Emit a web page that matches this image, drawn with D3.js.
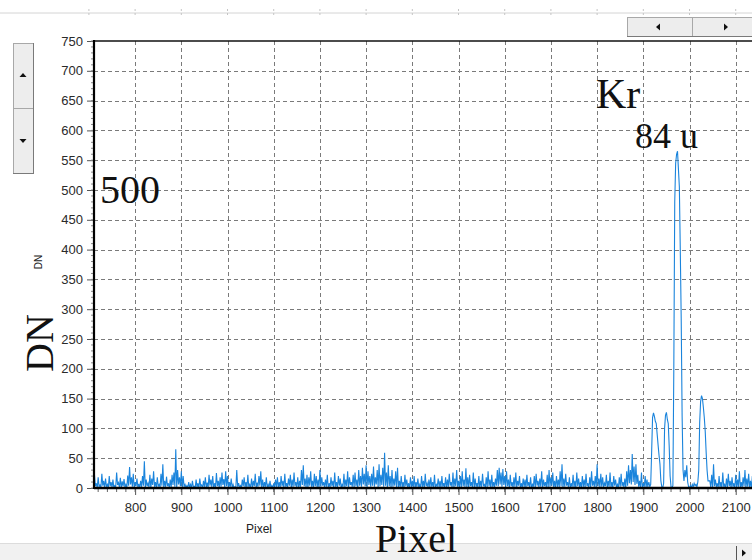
<!DOCTYPE html>
<html>
<head>
<meta charset="utf-8">
<script src="https://cdn.jsdelivr.net/npm/d3@7"></script>
<style>
  body { margin: 0; background: #fff; }
  svg { display: block; }
</style>
</head>
<body>
<script>
// spectrum (detector pixel -> DN)
// noise floor: local tops every 4 pixels from 712, dips in between (from 714)
const noiseStart = 712, noiseStep = 4;
const noiseTops = [
  22, 8, 18, 5, 24, 12, 16, 6, 20, 10, 14, 4, 26, 9, 17, 11, 15, 6, 21, 35, 18, 24, 10, 16, 7,
  12, 20, 45, 14, 8, 22, 16, 28, 10, 18, 6, 24, 40, 12, 19, 8, 14, 22, 26, 65, 30, 18, 28, 20, 6,
  4, 10, 6, 12, 3, 14, 8, 16, 5, 12, 18, 9, 22, 14, 20, 8, 25, 12, 18, 26, 15, 28, 20, 10, 16,
  6, 2, 30, 8, 4, 14, 18, 10, 22, 6, 16, 12, 24, 9, 20, 28, 14, 10, 18, 6, 12, 4, 8, 14, 18,
  10, 20, 12, 24, 8, 16, 22, 14, 26, 10, 18, 12, 30, 38, 16, 22, 18, 28, 12, 24, 20, 14, 30, 18, 10,
  14, 22, 8, 18, 12, 26, 10, 20, 16, 6, 24, 14, 28, 18, 10, 22, 26, 14, 30, 20, 34, 24, 38, 28, 20,
  24, 36, 18, 30, 40, 22, 34, 59, 26, 38, 20, 30, 16, 28, 34, 12, 20, 10, 22, 14, 8, 18, 12, 20, 10,
  16, 6, 20, 12, 24, 8, 14, 18, 10, 22, 6, 16, 12, 20, 8, 18, 14, 24, 10, 26, 16, 30, 12, 20, 28,
  14, 33, 18, 22, 10, 26, 16, 8, 20, 12, 24, 6, 18, 28, 14, 22, 10, 16, 30, 34, 26, 32, 20, 28, 14,
  22, 10, 18, 26, 12, 20, 8, 16, 14, 22, 10, 18, 6, 20, 24, 12, 16, 28, 14, 10, 22, 30, 18, 26, 12,
  20, 14, 28, 40, 16, 24, 10, 18, 8, 22, 12, 26, 16, 10, 20, 14, 24, 8, 18, 28, 12, 20, 40, 16, 24,
  18, 8, 22, 12, 26, 10, 20, 14, 6, 18, 24, 10, 16, 28, 38, 30, 57, 36, 40, 22, 12, 26, 8, 20, 14
];
const noiseDips = [
  3, 0, 2, 1, 4, 0, 2, 0, 3, 1, 0, 2, 5, 1, 0, 3, 1, 0, 4, 6, 2, 0, 3, 1, 0,
  2, 4, 0, 3, 1, 0, 5, 2, 0, 3, 1, 4, 0, 2, 3, 0, 1, 5, 2, 0, 6, 3, 0, 2, 1,
  0, 1, 0, 2, 0, 1, 0, 3, 0, 2, 1, 0, 4, 2, 0, 1, 3, 0, 2, 5, 1, 3, 0, 2, 1,
  0, 0, 2, 1, 0, 3, 1, 0, 2, 0, 1, 3, 0, 2, 4, 1, 0, 2, 0, 1, 0, 0, 1, 2, 0,
  1, 3, 0, 2, 1, 4, 0, 2, 3, 1, 0, 2, 5, 3, 1, 0, 4, 2, 0, 3, 1, 0, 2, 4, 1,
  2, 0, 1, 3, 0, 2, 1, 4, 0, 2, 1, 3, 0, 5, 2, 1, 3, 0, 4, 2, 6, 3, 1, 5, 2,
  4, 2, 6, 1, 3, 5, 2, 4, 1, 3, 0, 2, 4, 1, 0, 2, 1, 0, 3, 1, 0, 2, 1, 0, 2,
  1, 0, 2, 0, 3, 1, 0, 2, 1, 0, 3, 1, 0, 2, 1, 0, 2, 4, 1, 0, 3, 2, 0, 1, 3,
  2, 1, 0, 3, 1, 0, 2, 1, 0, 2, 4, 0, 1, 3, 0, 2, 1, 4, 3, 6, 2, 5, 1, 3, 0,
  3, 0, 2, 1, 4, 0, 1, 2, 0, 3, 1, 0, 2, 0, 4, 1, 2, 0, 3, 1, 0, 2, 4, 1, 0,
  2, 1, 3, 0, 2, 4, 1, 0, 2, 1, 0, 3, 1, 0, 2, 1, 3, 0, 1, 4, 2, 0, 3, 1, 2,
  1, 3, 0, 2, 1, 0, 4, 1, 0, 2, 3, 1, 0, 4, 8, 6, 10, 5, 7, 2, 1, 0, 2, 1, 0
];
// Kr isotope peaks, every 2 pixels from 1910
const peakStart = 1910, peakStep = 2;
const peakCounts = [
  4, 10, 2, 6, 60, 118, 126, 120, 112, 108,
  90, 72, 55, 40, 12, 2, 0, 8, 100, 122,
  127, 115, 108, 70, 20, 2, 0, 4, 200, 480,
  545, 560, 565, 535, 505, 400, 285, 120, 30, 12,
  30, 18, 38, 10, 2, 0, 4, 0, 6, 2,
  8, 4, 6, 2, 10, 30, 110, 145, 155, 150,
  135, 118, 95, 60, 30, 12
];
// tail past the peaks
const tailStart = 2044, tailStep = 4;
const tailTops = [12, 22, 40, 14, 8, 20, 10, 26, 6, 16, 24, 12, 18, 8, 22, 14, 28, 10, 18, 30, 16, 24, 12, 20, 8, 18, 14];
const tailDips = [1, 0, 3, 2, 0, 1, 0, 2, 0, 1, 3, 0, 2, 0, 1, 2, 0, 1, 3, 0, 2, 1, 0, 2, 1, 0, 2];

const xTicks = [800, 900, 1000, 1100, 1200, 1300, 1400, 1500, 1600, 1700, 1800, 1900, 2000, 2100];
const yTicks = [0, 50, 100, 150, 200, 250, 300, 350, 400, 450, 500, 550, 600, 650, 700, 750];

const points = []
  .concat(noiseTops.map((v, i) => [noiseStart + i * noiseStep, v]))
  .concat(noiseDips.map((v, i) => [noiseStart + 2 + i * noiseStep, v]))
  .concat(peakCounts.map((v, i) => [peakStart + i * peakStep, v]))
  .concat(tailTops.map((v, i) => [tailStart + i * tailStep, v]))
  .concat(tailDips.map((v, i) => [tailStart + 2 + i * tailStep, v]))
  .sort((a, b) => a[0] - b[0]);

const W = 752, H = 560;
const plotL = 94, plotT = 41, plotR = 752, plotB = 488;

const svg = d3.select("body").append("svg").attr("width", W).attr("height", H);

const x = d3.scaleLinear().domain([711, 711 + (plotR - plotL) / 0.462]).range([plotL, plotR]);
const y = d3.scaleLinear().domain([0, 750]).range([plotB, plotT]);

// top ruler strip
svg.append("line").attr("x1", 0).attr("x2", W).attr("y1", 13).attr("y2", 13)
  .attr("stroke", "#d4d4d4");
svg.selectAll(".rtick").data(d3.range(-1, 15)).enter().append("line")
  .attr("x1", d => x(800 + d * 100)).attr("x2", d => x(800 + d * 100))
  .attr("y1", 9).attr("y2", 16).attr("stroke", "#c4c4c4").attr("stroke-dasharray", "2,2");

// grid
const grid = svg.append("g").attr("stroke", "#7a7a7a").attr("stroke-dasharray", "4,3").attr("stroke-width", 1);
grid.selectAll(".vg").data(xTicks).enter().append("line")
  .attr("x1", d => Math.round(x(d)) + 0.5).attr("x2", d => Math.round(x(d)) + 0.5)
  .attr("y1", plotT).attr("y2", plotB);
grid.selectAll(".hg").data(yTicks.filter(d => d > 0 && d < 750)).enter().append("line")
  .attr("x1", plotL).attr("x2", plotR)
  .attr("y1", d => Math.round(y(d)) + 0.5).attr("y2", d => Math.round(y(d)) + 0.5);

// series
svg.append("clipPath").attr("id", "plot").append("rect")
  .attr("x", plotL).attr("y", plotT).attr("width", plotR - plotL).attr("height", plotB - plotT);
const line = d3.line().x(d => x(d[0])).y(d => y(d[1]));
svg.append("path").datum(points)
  .attr("clip-path", "url(#plot)")
  .attr("fill", "none").attr("stroke", "#1a84dc").attr("stroke-width", 1.1)
  .attr("d", line);

// axes
const yAxis = svg.append("g").attr("transform", `translate(${plotL},0)`)
  .call(d3.axisLeft(y).tickValues(yTicks).tickSize(7).tickPadding(4));
yAxis.select(".domain").remove();
const xAxis = svg.append("g").attr("transform", `translate(0,${plotB})`)
  .call(d3.axisBottom(x).tickValues(xTicks).tickFormat(d3.format("d")).tickSize(7).tickPadding(8));
xAxis.select(".domain").remove();
[yAxis, xAxis].forEach(a => {
  a.selectAll("text").attr("font-family", "Liberation Sans, Arial, sans-serif")
    .attr("font-size", 13).attr("fill", "#2a2a2a");
  a.selectAll("line").attr("stroke", "#555");
});
// minor ticks
svg.append("g").selectAll("line").data(d3.range(0, 751, 10)).enter().append("line")
  .attr("x1", plotL - 3).attr("x2", plotL).attr("y1", d => y(d)).attr("y2", d => y(d))
  .attr("stroke", "#888");
svg.append("g").selectAll("line").data(d3.range(720, 2140, 20)).enter().append("line")
  .attr("x1", d => x(d)).attr("x2", d => x(d)).attr("y1", plotB).attr("y2", plotB + 4)
  .attr("stroke", "#666");

// frame
svg.append("line").attr("x1", plotL).attr("x2", plotR).attr("y1", plotT).attr("y2", plotT)
  .attr("stroke", "#111").attr("stroke-width", 1.5);
svg.append("line").attr("x1", plotL).attr("x2", plotL).attr("y1", plotT - 1).attr("y2", plotB + 1)
  .attr("stroke", "#000").attr("stroke-width", 2.2);
svg.append("line").attr("x1", plotL).attr("x2", plotR).attr("y1", plotB).attr("y2", plotB)
  .attr("stroke", "#000").attr("stroke-width", 2.5);

// small axis titles
svg.append("text").attr("x", 259).attr("y", 533).attr("text-anchor", "middle")
  .attr("font-family", "Liberation Sans, Arial, sans-serif").attr("font-size", 12).attr("fill", "#222")
  .text("Pixel");
svg.append("text").attr("transform", "translate(42,262) rotate(-90)").attr("text-anchor", "middle")
  .attr("font-family", "Liberation Sans, Arial, sans-serif").attr("font-size", 10).attr("fill", "#222")
  .text("DN");

// big overlaid annotations
const serif = "Liberation Serif, Times New Roman, serif";
svg.append("text").attr("x", 100).attr("y", 203).attr("font-family", serif).attr("font-size", 40)
  .attr("fill", "#111").text("500");
svg.append("text").attr("x", 596).attr("y", 108).attr("font-family", serif).attr("font-size", 42)
  .attr("fill", "#111").text("Kr");
svg.append("text").attr("x", 635).attr("y", 148).attr("font-family", serif).attr("font-size", 36)
  .attr("fill", "#111").text("84 u");
svg.append("text").attr("transform", "translate(53,343) rotate(-90)").attr("text-anchor", "middle")
  .attr("font-family", serif).attr("font-size", 40).attr("fill", "#111").text("DN");

// scroll buttons
function button(bx, by, bw, bh) {
  svg.append("rect").attr("x", bx + 0.5).attr("y", by + 0.5).attr("width", bw).attr("height", bh)
    .attr("fill", "#ededed").attr("stroke", "#a8a8a8");
  svg.append("line").attr("x1", bx + bw + 0.5).attr("x2", bx + bw + 0.5).attr("y1", by).attr("y2", by + bh + 1)
    .attr("stroke", "#7a7a7a");
  svg.append("line").attr("x1", bx).attr("x2", bx + bw + 1).attr("y1", by + bh + 0.5).attr("y2", by + bh + 0.5)
    .attr("stroke", "#7a7a7a");
}
function arrow(cx, cy, dir) {
  const s = 3.5;
  const pts = {
    up: [[cx - s, cy + 2], [cx + s, cy + 2], [cx, cy - 2]],
    down: [[cx - s, cy - 2], [cx + s, cy - 2], [cx, cy + 2]],
    left: [[cx + 2, cy - s], [cx + 2, cy + s], [cx - 2, cy]],
    right: [[cx - 2, cy - s], [cx - 2, cy + s], [cx + 2, cy]]
  }[dir];
  svg.append("path").attr("d", "M" + pts.join("L") + "Z").attr("fill", "#111");
}
button(13, 43, 20, 65); arrow(23, 75, "up");
button(13, 108, 20, 65); arrow(23, 141, "down");
button(627, 17, 65, 19); arrow(658, 27, "left");
button(692, 17, 62, 19); arrow(726, 27, "right");

// bottom scrollbar
svg.append("rect").attr("x", 0).attr("y", 544).attr("width", W).attr("height", 16).attr("fill", "#f1f1f1");
svg.append("line").attr("x1", 0).attr("x2", W).attr("y1", 543.5).attr("y2", 543.5).attr("stroke", "#dcdcdc");
svg.append("line").attr("x1", 736.5).attr("x2", 736.5).attr("y1", 546).attr("y2", 560).attr("stroke", "#555");
arrow(744, 553, "right");
// big Pixel drawn over the scrollbar
svg.append("text").attr("x", 416).attr("y", 552).attr("text-anchor", "middle")
  .attr("font-family", serif).attr("font-size", 40).attr("fill", "#111").text("Pixel");
</script>
</body>
</html>
